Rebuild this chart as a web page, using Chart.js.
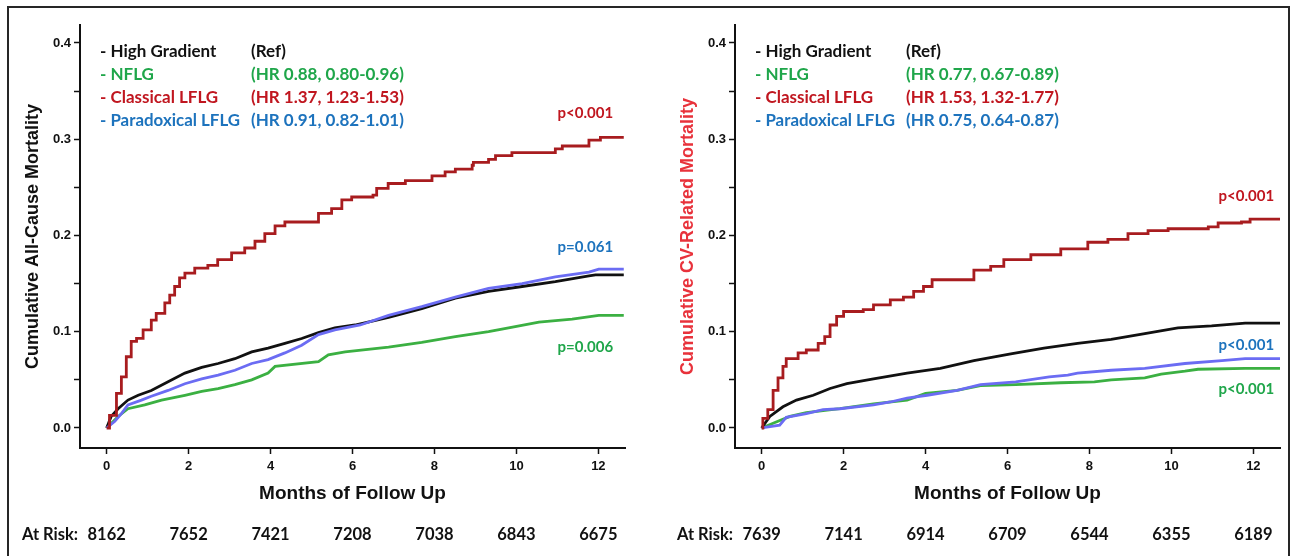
<!DOCTYPE html>
<html>
<head>
<meta charset="utf-8">
<script src="https://cdn.jsdelivr.net/npm/chart.js@4.4.1/dist/chart.umd.min.js"></script>
<style>
  body { margin: 0; background: #fff; width: 1293px; height: 556px; overflow: hidden; position: relative; }
  #frame { position: absolute; left: 7px; top: 6px; width: 1279px; height: 600px; border: 2px solid #262626; }
  #leftBox { position: absolute; left: 0; top: 0; }
  #rightBox { position: absolute; left: 646px; top: 0; }
</style>
</head>
<body>
<div id="frame"></div>
<div id="leftBox"><canvas id="allCause" width="646" height="556"></canvas></div>
<div id="rightBox"><canvas id="cvRelated" width="647" height="556"></canvas></div>
<script>
// groups and hazard ratios
const groups = ["High Gradient", "NFLG", "Classical LFLG", "Paradoxical LFLG"];
const acHR = ["(Ref)", "(HR 0.88, 0.80-0.96)", "(HR 1.37, 1.23-1.53)", "(HR 0.91, 0.82-1.01)"];
const cvHR = ["(Ref)", "(HR 0.77, 0.67-0.89)", "(HR 1.53, 1.32-1.77)", "(HR 0.75, 0.64-0.87)"];

// x ticks + number at risk
const xTickMonths = [0, 2, 4, 6, 8, 10, 12];
const acAtRisk = [8162, 7652, 7421, 7208, 7038, 6843, 6675];
const cvAtRisk = [7639, 7141, 6914, 6709, 6544, 6355, 6189];

// p values (red, blue, green) and the value level where each label sits
const acPText = ["p<0.001", "p=0.061", "p=0.006"];
const acPLevel = [0.327, 0.188, 0.084];
const cvPText = ["p<0.001", "p<0.001", "p<0.001"];
const cvPLevel = [0.241, 0.086, 0.0405];

// all-cause mortality curves (months, cumulative)
const acHighT = [0, 0.11, 0.28, 0.52, 0.77, 1.09, 1.5, 1.91, 2.32, 2.72, 3.13, 3.54, 3.94, 4.35, 4.76, 5.17, 5.57, 6.06, 6.88, 7.69, 8.51, 9.32, 10.14, 10.95, 11.77, 11.93, 12.62];
const acHighY = [0, 0.012, 0.020, 0.029, 0.034, 0.039, 0.048, 0.057, 0.063, 0.067, 0.072, 0.079, 0.083, 0.088, 0.093, 0.099, 0.104, 0.107, 0.115, 0.124, 0.135, 0.142, 0.147, 0.152, 0.158, 0.159, 0.159];
const acNflgT = [0, 0.28, 0.52, 0.93, 1.34, 1.91, 2.32, 2.72, 3.13, 3.54, 3.94, 4.11, 5.17, 5.41, 5.82, 6.88, 7.69, 8.51, 9.32, 9.81, 10.55, 11.36, 12.01, 12.62];
const acNflgY = [0, 0.012, 0.020, 0.024, 0.029, 0.034, 0.038, 0.041, 0.045, 0.050, 0.057, 0.064, 0.069, 0.076, 0.079, 0.084, 0.089, 0.095, 0.100, 0.104, 0.110, 0.113, 0.117, 0.117];
const acClassT = [0, 0.07, 0.24, 0.36, 0.48, 0.6, 0.73, 0.89, 1.09, 1.21, 1.42, 1.54, 1.66, 1.78, 1.91, 2.15, 2.47, 2.71, 3.05, 3.37, 3.62, 3.86, 4.11, 4.35, 5.17, 5.49, 5.74, 5.98, 6.5, 6.59, 6.87, 7.29, 7.94, 8.26, 8.51, 8.92, 8.95, 9.32, 9.49, 9.89, 10.95, 11.12, 11.77, 12.05, 12.62];
const acClassY = [0, 0.013, 0.036, 0.053, 0.074, 0.090, 0.093, 0.102, 0.112, 0.119, 0.130, 0.138, 0.147, 0.156, 0.161, 0.166, 0.169, 0.175, 0.182, 0.187, 0.194, 0.202, 0.210, 0.214, 0.223, 0.228, 0.237, 0.240, 0.242, 0.249, 0.254, 0.257, 0.262, 0.266, 0.269, 0.273, 0.276, 0.279, 0.283, 0.286, 0.290, 0.293, 0.299, 0.302, 0.302];
const acParaT = [0, 0.2, 0.36, 0.52, 0.85, 1.09, 1.5, 1.91, 2.32, 2.72, 3.13, 3.54, 3.94, 4.35, 4.76, 5.17, 5.57, 6.19, 6.88, 7.69, 8.51, 9.32, 10.14, 10.95, 11.77, 12.01, 12.62];
const acParaY = [0, 0.007, 0.015, 0.024, 0.029, 0.033, 0.039, 0.046, 0.051, 0.055, 0.060, 0.067, 0.071, 0.078, 0.086, 0.097, 0.102, 0.107, 0.117, 0.126, 0.136, 0.145, 0.150, 0.157, 0.162, 0.165, 0.165];

// CV-related mortality curves
const cvHighT = [0, 0.2, 0.52, 0.85, 1.26, 1.67, 2.08, 2.73, 3.55, 4.36, 5.18, 6.08, 6.89, 7.71, 8.53, 9.35, 10.16, 10.98, 11.8, 12.65];
const cvHighY = [0, 0.012, 0.022, 0.029, 0.034, 0.041, 0.046, 0.051, 0.057, 0.062, 0.070, 0.077, 0.083, 0.088, 0.092, 0.098, 0.104, 0.106, 0.109, 0.109];
const cvNflgT = [0, 0.28, 0.69, 1.09, 1.91, 2.73, 3.55, 4.0, 4.77, 5.34, 6.2, 7.3, 8.12, 8.53, 9.35, 9.75, 10.33, 10.65, 11.8, 12.65];
const cvNflgY = [0, 0.005, 0.012, 0.016, 0.020, 0.025, 0.029, 0.036, 0.039, 0.044, 0.045, 0.047, 0.048, 0.050, 0.052, 0.056, 0.059, 0.061, 0.062, 0.062];
const cvClassT = [0, 0.03, 0.15, 0.28, 0.4, 0.52, 0.6, 0.89, 1.09, 1.38, 1.54, 1.67, 1.83, 2.0, 2.48, 2.73, 3.14, 3.46, 3.71, 3.95, 4.16, 5.18, 5.59, 5.91, 6.57, 7.3, 7.96, 8.45, 8.94, 9.43, 9.92, 10.9, 11.14, 11.71, 11.92, 12.65];
const cvClassY = [0, 0.010, 0.019, 0.039, 0.052, 0.064, 0.072, 0.078, 0.081, 0.088, 0.095, 0.107, 0.116, 0.121, 0.123, 0.128, 0.133, 0.136, 0.142, 0.147, 0.154, 0.164, 0.168, 0.175, 0.180, 0.186, 0.193, 0.196, 0.202, 0.205, 0.207, 0.209, 0.213, 0.214, 0.217, 0.217];
const cvParaT = [0, 0.44, 0.6, 1.09, 1.5, 1.91, 2.73, 3.14, 3.55, 4.04, 4.77, 5.34, 6.2, 7.02, 7.47, 7.71, 8.53, 9.35, 10.33, 11.23, 11.8, 12.65];
const cvParaY = [0, 0.003, 0.011, 0.015, 0.019, 0.020, 0.024, 0.027, 0.031, 0.034, 0.039, 0.045, 0.048, 0.053, 0.055, 0.057, 0.060, 0.062, 0.067, 0.070, 0.072, 0.072];

// colours: text colour and line colour per group
const textColors = ["#111111", "#1fa64a", "#c0161f", "#1d73bd"];
const lineColors = ["#111111", "#3bb042", "#a81c1f", "#6b6cf3"];

const pts = (t, y) => t.map((v, i) => ({ x: v, y: y[i] }));

function makeSets(high, nflg, classical, para) {
  // first dataset is drawn on top; the dense curves are drawn as plain lines
  return [
    { label: groups[2], data: classical, borderColor: lineColors[2], stepped: true },
    { label: groups[3], data: para, borderColor: lineColors[3], stepped: false },
    { label: groups[0], data: high, borderColor: lineColors[0], stepped: false },
    { label: groups[1], data: nflg, borderColor: lineColors[1], stepped: false },
  ].map(d => Object.assign(d, { borderWidth: 2.8, pointRadius: 0, fill: false, tension: 0 }));
}

// draws legend, p values, axis titles and the at risk row
const kmText = {
  id: "kmText",
  afterDraw(chart, args, opts) {
    const ctx = chart.ctx;
    const a = chart.chartArea;
    const xs = chart.scales.x, ys = chart.scales.y;
    ctx.save();
    ctx.textBaseline = "middle";

    // legend
    ctx.font = "bold 17px Lato";
    ctx.textAlign = "left";
    groups.forEach((g, i) => {
      const y = 52 + i * 23;
      ctx.fillStyle = textColors[i];
      ctx.fillText("- " + g, a.left + 20, y, 140);
      ctx.fillText(opts.hr[i], a.left + 171, y, 157);
    });

    // p values: red, blue, green
    ctx.font = "bold 15px Lato";
    ctx.textAlign = "center";
    const pCol = [textColors[2], textColors[3], textColors[1]];
    opts.pText.forEach((t, i) => {
      ctx.fillStyle = pCol[i];
      ctx.fillText(t, xs.getPixelForValue(12) - opts.pShift, ys.getPixelForValue(opts.pLevel[i]));
    });

    // x title
    ctx.fillStyle = "#111";
    ctx.font = "bold 19px 'Liberation Sans'";
    ctx.fillText("Months of Follow Up", (xs.getPixelForValue(0) + xs.getPixelForValue(12)) / 2, 494, 202);

    // y title
    ctx.save();
    ctx.translate(a.left - 47, (a.top + a.bottom) / 2);
    ctx.rotate(-Math.PI / 2);
    ctx.fillStyle = opts.yTitleColor;
    ctx.font = "bold 18px 'Liberation Sans'";
    ctx.fillText(opts.yTitle, 0, 0, opts.yTitleWidth);
    ctx.restore();

    // at risk
    ctx.fillStyle = "#111";
    ctx.font = "bold 16.5px Lato";
    ctx.textAlign = "left";
    ctx.fillText("At Risk:", a.left - 58, 535);
    ctx.textAlign = "center";
    xTickMonths.forEach((m, i) => {
      ctx.fillText(String(opts.atRisk[i]), xs.getPixelForValue(m), 535);
    });
    ctx.restore();
  }
};

function makeChart(id, datasets, yAxisWidth, padRight, textOpts) {
  return new Chart(document.getElementById(id), {
    type: "line",
    data: { datasets: datasets },
    options: {
      responsive: false,
      animation: false,
      layout: { padding: { top: 25, right: padRight, left: 0, bottom: 0 } },
      plugins: { legend: { display: false }, tooltip: { enabled: false }, kmText: textOpts },
      scales: {
        x: {
          type: "linear",
          min: -0.65,
          max: 12.65,
          afterFit: s => { s.height = 108; },
          border: { display: true, color: "#111", width: 2 },
          grid: { drawOnChartArea: false, drawTicks: true, tickLength: 6, color: "#111", tickWidth: 1.5 },
          ticks: {
            stepSize: 2, includeBounds: false, autoSkip: false, maxRotation: 0, padding: 5,
            color: "#111", font: { family: "'Liberation Sans'", weight: "bold", size: 13 }
          }
        },
        y: {
          type: "linear",
          min: -0.0208,
          max: 0.4187,
          afterFit: s => { s.width = yAxisWidth; },
          border: { display: true, color: "#111", width: 2 },
          grid: { drawOnChartArea: false, drawTicks: true, tickLength: 6, color: "#111", tickWidth: 1.5 },
          ticks: {
            stepSize: 0.05, includeBounds: false, autoSkip: false, padding: 3,
            color: "#111", font: { family: "'Liberation Sans'", weight: "bold", size: 13 },
            callback: v => {
              const r = Math.round(v * 100);
              return r % 10 === 0 ? (r / 100).toFixed(1) : "";
            }
          }
        }
      }
    },
    plugins: [kmText]
  });
}

makeChart("allCause",
  makeSets(pts(acHighT, acHighY), pts(acNflgT, acNflgY), pts(acClassT, acClassY), pts(acParaT, acParaY)),
  80, 21,
  { hr: acHR, pText: acPText, pLevel: acPLevel, pShift: 13, atRisk: acAtRisk,
    yTitle: "Cumulative All-Cause Mortality", yTitleColor: "#111", yTitleWidth: 282 });

makeChart("cvRelated",
  makeSets(pts(cvHighT, cvHighY), pts(cvNflgT, cvNflgY), pts(cvClassT, cvClassY), pts(cvParaT, cvParaY)),
  89, 13,
  { hr: cvHR, pText: cvPText, pLevel: cvPLevel, pShift: 7, atRisk: cvAtRisk,
    yTitle: "Cumulative CV-Related Mortality", yTitleColor: "#e8323b", yTitleWidth: 296 });
</script>
</body>
</html>
